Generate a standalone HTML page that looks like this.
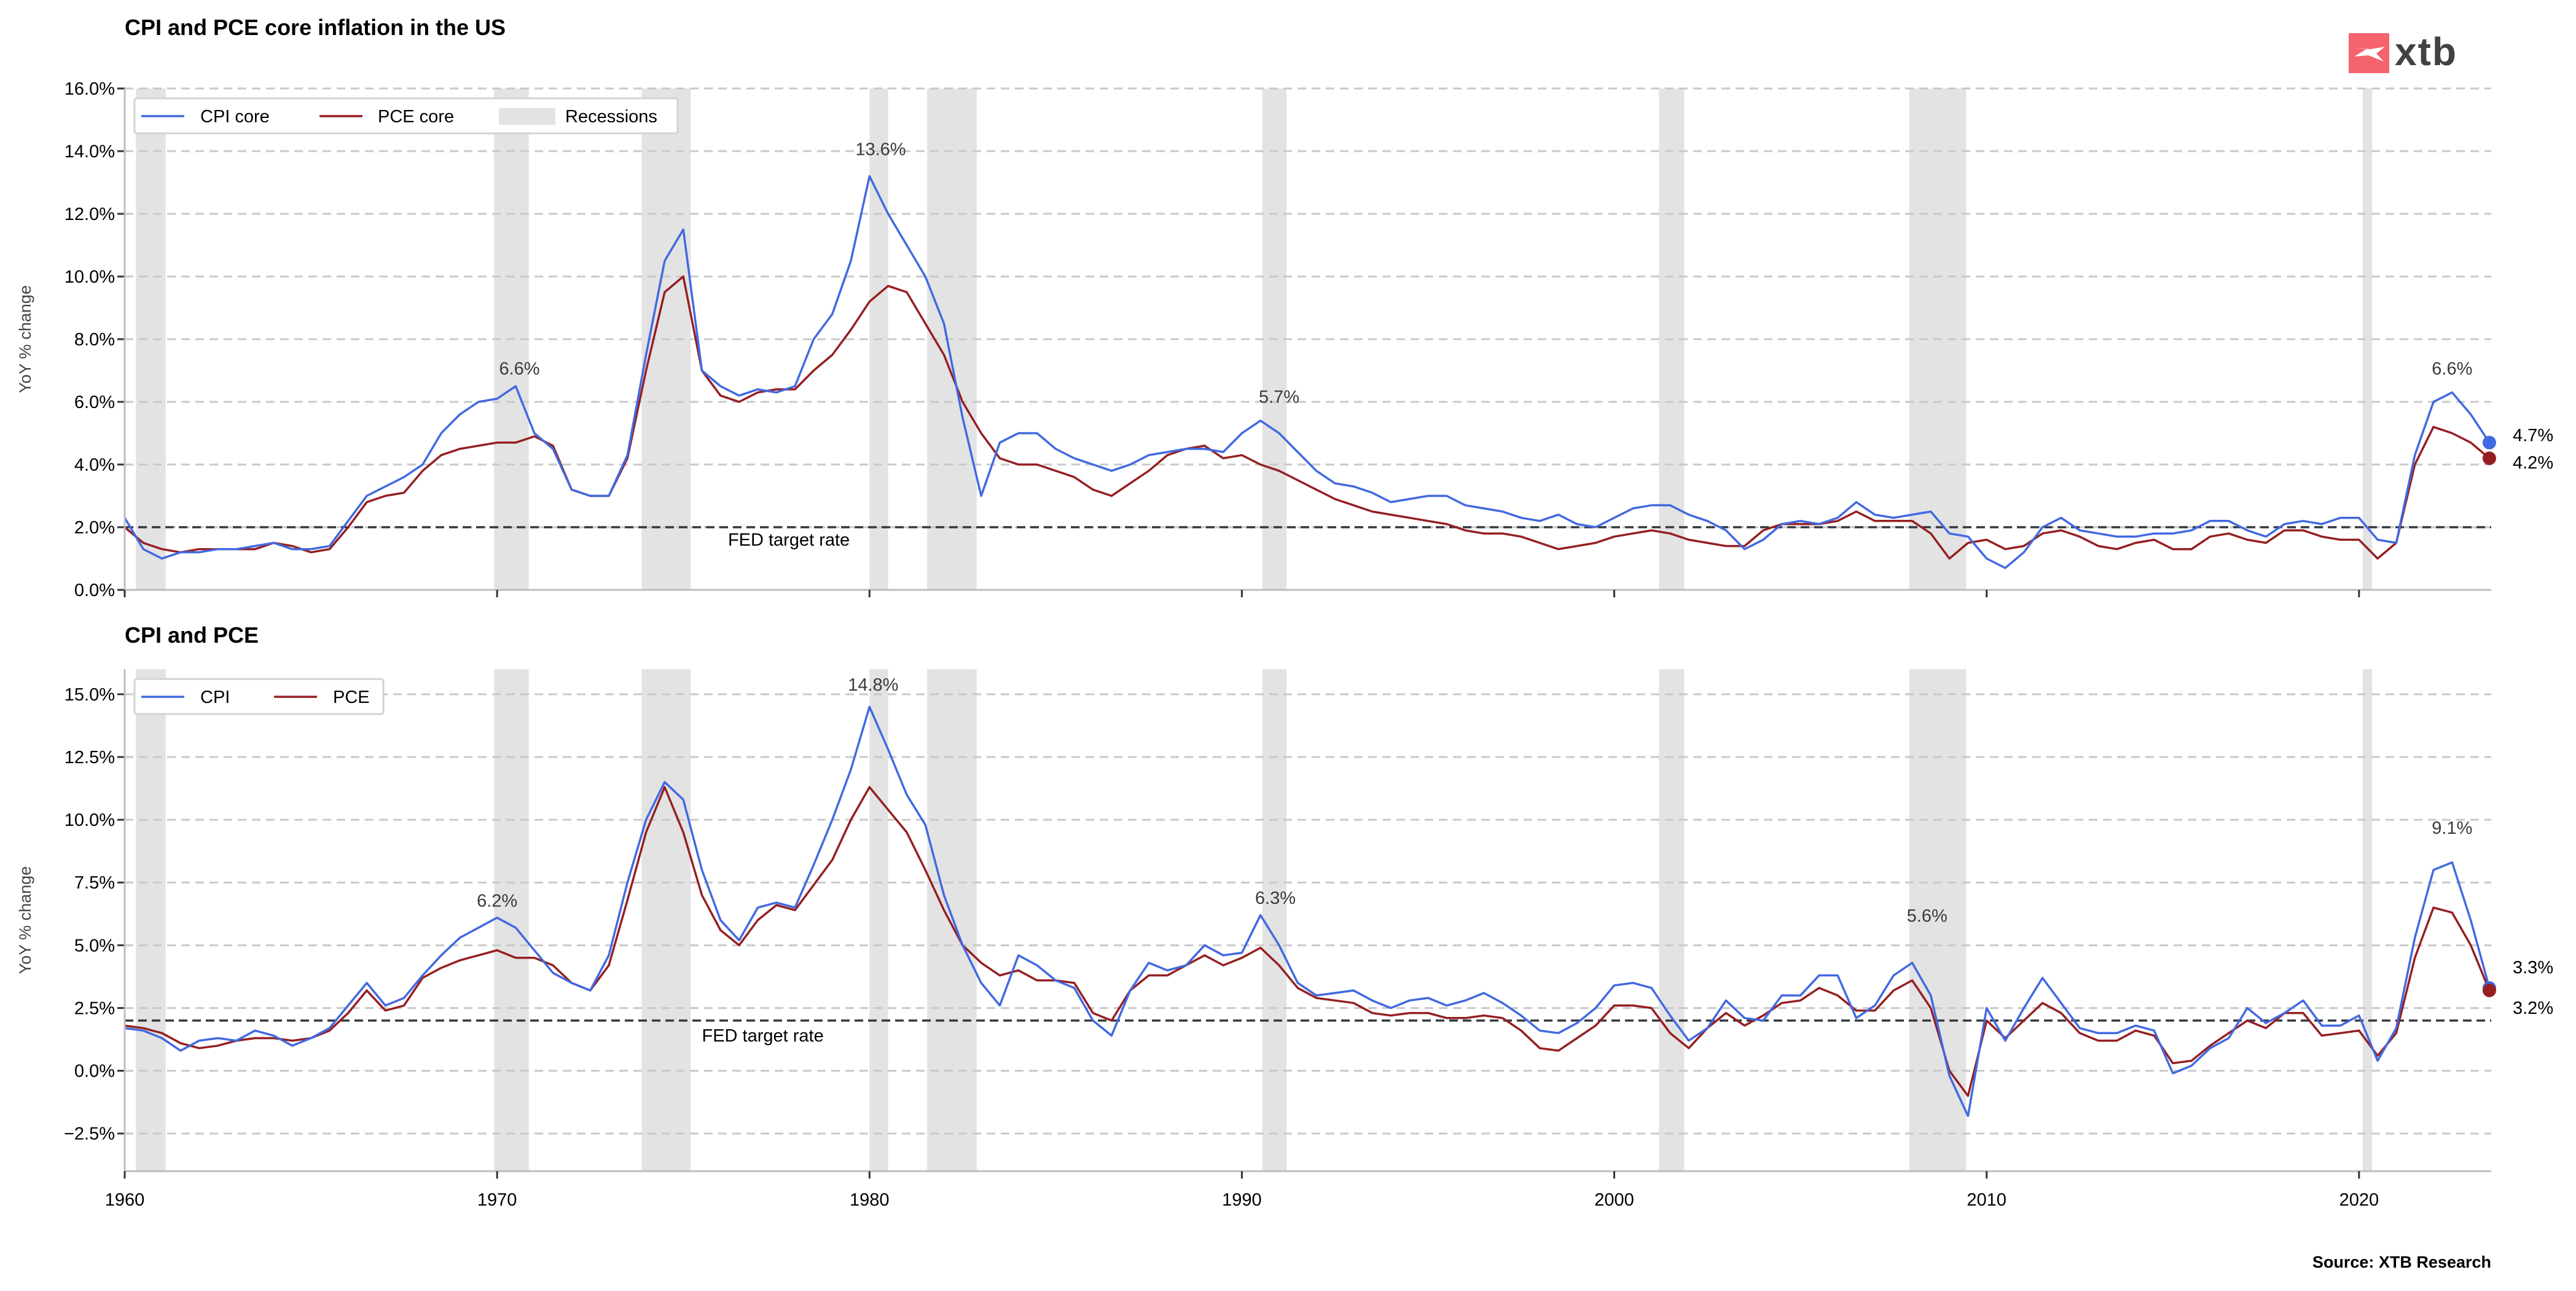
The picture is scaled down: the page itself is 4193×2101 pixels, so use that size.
<!DOCTYPE html>
<html><head><meta charset="utf-8"><style>
html,body{margin:0;padding:0;background:#fff;}
svg{display:block;font-family:"Liberation Sans",Arial,sans-serif;}
</style></head><body>
<svg id="chart" width="4193" height="2101" viewBox="0 0 4193 2101" xmlns="http://www.w3.org/2000/svg">
<rect width="4193" height="2101" fill="#fff"/>
<text x="203" y="57" font-size="36" font-weight="bold" fill="#000">CPI and PCE core inflation in the US</text>
<text x="203" y="1046" font-size="36" font-weight="bold" fill="#000">CPI and PCE</text>
<g>
<rect x="3823" y="54" width="66" height="65" fill="#f5636d"/>
<path d="M3830 78 L3852 80 L3832 92 L3855 90 L3880 100 L3868 87 L3882 76 L3858 80 Z" fill="#fff"/>
<text x="3898" y="106" font-size="64" font-weight="bold" fill="#414146" letter-spacing="2">xtb</text>
</g>
<text x="4055" y="2063" font-size="27" font-weight="bold" text-anchor="end" fill="#000">Source: XTB Research</text>
<g id="top"></g><g id="bot"></g>
</svg>
<script>
const recessionStarts=[1960.3,1969.92,1973.88,1980.0,1981.55,1990.55,2001.2,2007.92,2020.1];
const recessionEnds=[1961.1,1970.85,1975.2,1980.5,1982.88,1991.2,2001.88,2009.45,2020.35];
const startYear=1960;
const coreCPI=[2.3,1.3,1.0,1.2,1.2,1.3,1.3,1.4,1.5,1.3,1.3,1.4,2.2,3.0,3.3,3.6,4.0,5.0,5.6,6.0,6.1,6.5,5.0,4.5,3.2,3.0,3.0,4.3,7.5,10.5,11.5,7.0,6.5,6.2,6.4,6.3,6.5,8.0,8.8,10.5,13.2,12.0,11.0,10.0,8.5,5.5,3.0,4.7,5.0,5.0,4.5,4.2,4.0,3.8,4.0,4.3,4.4,4.5,4.5,4.4,5.0,5.4,5.0,4.4,3.8,3.4,3.3,3.1,2.8,2.9,3.0,3.0,2.7,2.6,2.5,2.3,2.2,2.4,2.1,2.0,2.3,2.6,2.7,2.7,2.4,2.2,1.9,1.3,1.6,2.1,2.2,2.1,2.3,2.8,2.4,2.3,2.4,2.5,1.8,1.7,1.0,0.7,1.2,2.0,2.3,1.9,1.8,1.7,1.7,1.8,1.8,1.9,2.2,2.2,1.9,1.7,2.1,2.2,2.1,2.3,2.3,1.6,1.5,4.3,6.0,6.3,5.6,4.7];
const corePCE=[2.0,1.5,1.3,1.2,1.3,1.3,1.3,1.3,1.5,1.4,1.2,1.3,2.0,2.8,3.0,3.1,3.8,4.3,4.5,4.6,4.7,4.7,4.9,4.6,3.2,3.0,3.0,4.2,7.0,9.5,10.0,7.0,6.2,6.0,6.3,6.4,6.4,7.0,7.5,8.3,9.2,9.7,9.5,8.5,7.5,6.0,5.0,4.2,4.0,4.0,3.8,3.6,3.2,3.0,3.4,3.8,4.3,4.5,4.6,4.2,4.3,4.0,3.8,3.5,3.2,2.9,2.7,2.5,2.4,2.3,2.2,2.1,1.9,1.8,1.8,1.7,1.5,1.3,1.4,1.5,1.7,1.8,1.9,1.8,1.6,1.5,1.4,1.4,1.9,2.1,2.1,2.1,2.2,2.5,2.2,2.2,2.2,1.8,1.0,1.5,1.6,1.3,1.4,1.8,1.9,1.7,1.4,1.3,1.5,1.6,1.3,1.3,1.7,1.8,1.6,1.5,1.9,1.9,1.7,1.6,1.6,1.0,1.5,4.0,5.2,5.0,4.7,4.2];
const headCPI=[1.7,1.6,1.3,0.8,1.2,1.3,1.2,1.6,1.4,1.0,1.3,1.7,2.6,3.5,2.6,2.9,3.8,4.6,5.3,5.7,6.1,5.7,4.8,3.9,3.5,3.2,4.6,7.5,10.0,11.5,10.8,8.0,6.0,5.2,6.5,6.7,6.5,8.2,10.0,12.0,14.5,12.8,11.0,9.8,7.0,5.0,3.5,2.6,4.6,4.2,3.6,3.3,2.0,1.4,3.2,4.3,4.0,4.2,5.0,4.6,4.7,6.2,5.0,3.5,3.0,3.1,3.2,2.8,2.5,2.8,2.9,2.6,2.8,3.1,2.7,2.2,1.6,1.5,1.9,2.5,3.4,3.5,3.3,2.2,1.2,1.7,2.8,2.1,2.0,3.0,3.0,3.8,3.8,2.1,2.6,3.8,4.3,3.0,-0.2,-1.8,2.5,1.2,2.5,3.7,2.7,1.7,1.5,1.5,1.8,1.6,-0.1,0.2,0.9,1.3,2.5,1.9,2.3,2.8,1.8,1.8,2.2,0.4,1.7,5.3,8.0,8.3,6.0,3.3];
const headPCE=[1.8,1.7,1.5,1.1,0.9,1.0,1.2,1.3,1.3,1.2,1.3,1.6,2.3,3.2,2.4,2.6,3.7,4.1,4.4,4.6,4.8,4.5,4.5,4.2,3.5,3.2,4.2,6.8,9.5,11.3,9.5,7.0,5.6,5.0,6.0,6.6,6.4,7.4,8.4,10.0,11.3,10.4,9.5,8.0,6.4,5.0,4.3,3.8,4.0,3.6,3.6,3.5,2.3,2.0,3.2,3.8,3.8,4.2,4.6,4.2,4.5,4.9,4.2,3.3,2.9,2.8,2.7,2.3,2.2,2.3,2.3,2.1,2.1,2.2,2.1,1.6,0.9,0.8,1.3,1.8,2.6,2.6,2.5,1.5,0.9,1.7,2.3,1.8,2.2,2.7,2.8,3.3,3.0,2.4,2.4,3.2,3.6,2.5,0.0,-1.0,2.0,1.3,2.0,2.7,2.3,1.5,1.2,1.2,1.6,1.4,0.3,0.4,1.0,1.5,2.0,1.7,2.3,2.3,1.4,1.5,1.6,0.6,1.5,4.5,6.5,6.3,5.0,3.2];
const yearTicks=[1960,1970,1980,1990,2000,2010,2020];
const topTicks=[0,2,4,6,8,10,12,14,16];
const botTicks=[-2.5,0,2.5,5,7.5,10,12.5,15];
const topAnnYears=[1970.6,1980.3,1991.0,2022.5];
const topAnnVals=[6.6,13.6,5.7,6.6];
const botAnnYears=[1970.0,1980.1,1990.9,2008.4,2022.5];
const botAnnVals=[6.2,14.8,6.3,5.6,9.1];
const fedTarget=2;

const NS="http://www.w3.org/2000/svg";
const X0=203,X1=4055,XMIN=1960,XMAX=2023.55;
function xs(y){return X0+(y-XMIN)/(XMAX-XMIN)*(X1-X0);}
function mk(tag,attrs,parent){const e=document.createElementNS(NS,tag);for(const k in attrs)e.setAttribute(k,attrs[k]);parent.appendChild(e);return e;}

function panel(g,top,bottom,ymin,ymax,ticks,fmt,s1,s2,c1,c2,n1,n2,anY,anV,legendW,legendItems,fedX,fedDy){
  const ys=v=>bottom-(v-ymin)/(ymax-ymin)*(bottom-top);
  for(let i=0;i<recessionStarts.length;i++){
    const r=mk('rect',{x:xs(recessionStarts[i]),y:top,width:xs(recessionEnds[i])-xs(recessionStarts[i]),height:bottom-top,fill:'#e3e3e3'},g);
    
    
  }
  ticks.forEach(t=>{
    const l=mk('line',{x1:X0,x2:X1,y1:ys(t),y2:ys(t),stroke:'#c9c9c9','stroke-width':3,'stroke-dasharray':'14 9'},g);
    
    
    mk('line',{x1:X0-12,x2:X0,y1:ys(t),y2:ys(t),stroke:'#333','stroke-width':3},g);
    const tx=mk('text',{x:X0-16,y:ys(t)+10,'font-size':29,'text-anchor':'end',fill:'#000'},g);
    tx.textContent=fmt(t);
    
    
  });
  const fed=mk('line',{x1:X0,x2:X1,y1:ys(fedTarget),y2:ys(fedTarget),stroke:'#333840','stroke-width':3.5,'stroke-dasharray':'14 8'},g);
  
  
  const ft=mk('text',{x:xs(fedX),y:ys(fedTarget)+fedDy,'font-size':29,fill:'#000'},g);
  ft.textContent='FED target rate';
  
  
  [[s2,c2,n2],[s1,c1,n1]].forEach(([s,c,n])=>{
    const pts=s.map((v,i)=>xs(startYear+i*0.5+0.25*(i===s.length-1?0:0)).toFixed(1)+','+ys(v).toFixed(1)).join(' ');
    const p=mk('polyline',{points:pts,fill:'none',stroke:c,'stroke-width':3.5,'stroke-linejoin':'round'},g);
    
    
  });
  // end dots and labels
  const last1=s1[s1.length-1],last2=s2[s2.length-1];
  const lx=xs(startYear+(s1.length-1)*0.5);
  [[last1,c1,n1],[last2,c2,n2]].forEach(([v,c,n])=>{
    const d=mk('circle',{cx:lx,cy:ys(v),r:11,fill:c},g);
    
    
  });
  const hi=Math.max(last1,last2),lo=Math.min(last1,last2);
  const yh=Math.min(ys(hi),ys(lo)-30)+2, yl=Math.max(ys(lo),ys(hi)+30)+12;
  const t1=mk('text',{x:4090,y:yh,'font-size':29,fill:'#000'},g);t1.textContent=hi.toFixed(1)+'%';
  
  
  const t2=mk('text',{x:4090,y:yl,'font-size':29,fill:'#000'},g);t2.textContent=lo.toFixed(1)+'%';
  
  
  anY.forEach((yy,i)=>{
    const a=mk('text',{x:xs(yy),y:ys(anV[i])-14,'font-size':29,'text-anchor':'middle',fill:'#3a3a3a'},g);
    a.textContent=anV[i].toFixed(1)+'%';
    
    
  });
  // axes
  mk('line',{x1:X0,x2:X0,y1:top,y2:bottom,stroke:'#bdbdbd','stroke-width':3},g);
  mk('line',{x1:X0,x2:X1,y1:bottom,y2:bottom,stroke:'#bdbdbd','stroke-width':3},g);
  yearTicks.forEach(y=>mk('line',{x1:xs(y),x2:xs(y),y1:bottom,y2:bottom+12,stroke:'#333','stroke-width':3},g));
  const yl2=mk('text',{x:0,y:0,'font-size':27,fill:'#444','text-anchor':'middle',transform:`translate(50 ${(top+bottom)/2}) rotate(-90)`},g);
  yl2.textContent='YoY % change';
  
  
  // legend
  const lg=mk('g',{},g);
  
  
  mk('rect',{x:219,y:top+16,width:legendW,height:57,rx:4,fill:'#fff',stroke:'#d3d3d3','stroke-width':3},lg);
  legendItems.forEach(it=>{
    if(it.box) mk('rect',{x:it.x,y:top+32,width:92,height:27,fill:'#e3e3e3'},lg);
    else mk('line',{x1:it.x,x2:it.x+70,y1:top+45,y2:top+45,stroke:it.c,'stroke-width':3.5},lg);
    const t=mk('text',{x:it.tx,y:top+55,'font-size':29,fill:'#000'},lg);t.textContent=it.t;
    
    
  });
  return ys;
}
const blue='#4169e1',red='#951f22';
panel(document.getElementById('top'),144,960,0,16,topTicks,t=>t.toFixed(1)+'%',coreCPI,corePCE,blue,red,'cpi-core','pce-core',topAnnYears,topAnnVals,884,
 [{x:230,tx:326,t:'CPI core',c:blue},{x:520,tx:615,t:'PCE core',c:red},{box:1,x:812,tx:920,t:'Recessions'}],1976.2,30);
const bg=document.getElementById('bot');
panel(bg,1089,1906,-4,16,botTicks,t=>(t<0?'\u2212':'')+Math.abs(t).toFixed(1)+'%',headCPI,headPCE,blue,red,'cpi','pce',botAnnYears,botAnnVals,405,
 [{x:230,tx:326,t:'CPI',c:blue},{x:446,tx:542,t:'PCE',c:red}],1975.5,34);
yearTicks.forEach(y=>{
  const t=mk('text',{x:xs(y),y:1962,'font-size':29,'text-anchor':'middle',fill:'#000'},bg);
  t.textContent=y;
  
  
});
</script>
</body></html>
